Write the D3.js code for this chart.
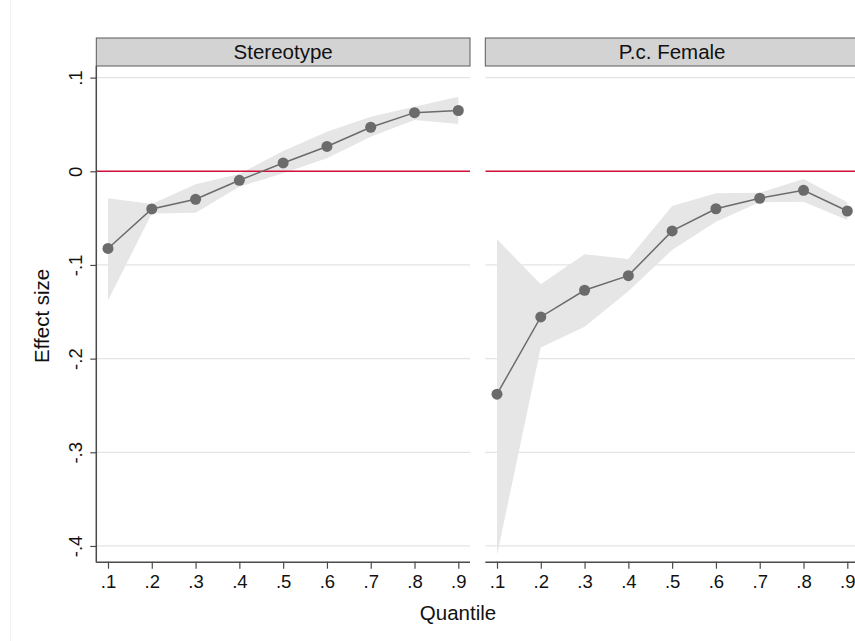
<!DOCTYPE html>
<html>
<head>
<meta charset="utf-8">
<script src="https://cdn.jsdelivr.net/npm/d3@7"></script>
<style>
  html, body { margin: 0; padding: 0; background: #fff; }
  svg { display: block; font-family: "Liberation Sans", Arial, Helvetica, sans-serif; }
</style>
</head>
<body>
<svg id="chart" width="855" height="641"></svg>
<script>
// Quantile regression effects with confidence bands, one panel per covariate
const quantiles = [0.1, 0.2, 0.3, 0.4, 0.5, 0.6, 0.7, 0.8, 0.9];
const xTickLabels = [".1", ".2", ".3", ".4", ".5", ".6", ".7", ".8", ".9"];
const yTicks = [0.1, 0, -0.1, -0.2, -0.3, -0.4];
const yTickLabels = [".1", "0", "-.1", "-.2", "-.3", "-.4"];
const panelTitles = ["Stereotype", "P.c. Female"];

const stereotypeEst = [-0.0824, -0.0402, -0.0299, -0.0096, 0.0089, 0.0265, 0.0470, 0.0626, 0.0649];
const stereotypeLo  = [-0.1380, -0.0450, -0.0442, -0.0164, -0.0021, 0.0139, 0.0370, 0.0548, 0.0505];
const stereotypeHi  = [-0.0288, -0.0350, -0.0139, -0.0030, 0.0217, 0.0423, 0.0583, 0.0690, 0.0797];

const femaleEst = [-0.2380, -0.1555, -0.1270, -0.1114, -0.0637, -0.0400, -0.0288, -0.0203, -0.0424];
const femaleLo  = [-0.4100, -0.1880, -0.1660, -0.1280, -0.0840, -0.0540, -0.0330, -0.0324, -0.0520];
const femaleHi  = [-0.0726, -0.1207, -0.0886, -0.0936, -0.0370, -0.0235, -0.0228, -0.0082, -0.0331];

const panels = [
  { title: panelTitles[0], est: stereotypeEst, lo: stereotypeLo, hi: stereotypeHi, x0: 96.3, yAxis: true },
  { title: panelTitles[1], est: femaleEst, lo: femaleLo, hi: femaleHi, x0: 485.3, yAxis: false }
];

const svg = d3.select("#chart");
const W = 855, H = 641;
const panelW = 373.7;
const plotTop = 66, plotBottom = 561.7;
const headerTop = 38;

const textColor = "#111";
const axisColor = "#4a4a4a";
const gridColor = "#e4e4e4";
const bandColor = "#e6e6e6";
const markColor = "#6b6b6b";
const refColor = "#d0103a";

// faint outer frame of the graph region
svg.append("line")
  .attr("x1", 10.5).attr("x2", 10.5).attr("y1", 0).attr("y2", H)
  .attr("stroke", "#f3f3f3").attr("stroke-width", 1);

const y = d3.scaleLinear().domain([-0.4168, 0.1124]).range([plotBottom, plotTop]);

panels.forEach((p) => {
  const x = d3.scaleLinear().domain([0.0733, 0.9267]).range([p.x0, p.x0 + panelW]);
  const g = svg.append("g");

  const clipId = "clip-" + p.title.replace(/[^A-Za-z]/g, "");
  svg.append("clipPath").attr("id", clipId)
    .append("rect").attr("x", p.x0).attr("y", plotTop)
    .attr("width", panelW).attr("height", plotBottom - plotTop);

  // horizontal grid
  g.append("g").selectAll("line").data(yTicks.filter(v => v !== 0)).join("line")
    .attr("x1", p.x0).attr("x2", p.x0 + panelW)
    .attr("y1", d => y(d)).attr("y2", d => y(d))
    .attr("stroke", gridColor).attr("stroke-width", 1.3);

  const rows = quantiles.map((q, i) => ({ q, est: p.est[i], lo: p.lo[i], hi: p.hi[i] }));

  const plot = g.append("g").attr("clip-path", `url(#${clipId})`);

  // confidence band
  plot.append("path").datum(rows)
    .attr("d", d3.area().x(d => x(d.q)).y0(d => y(d.lo)).y1(d => y(d.hi)))
    .attr("fill", bandColor).attr("stroke", "none");

  // zero reference line
  plot.append("line")
    .attr("x1", p.x0).attr("x2", p.x0 + panelW)
    .attr("y1", y(0)).attr("y2", y(0))
    .attr("stroke", refColor).attr("stroke-width", 1.6);

  // point estimates
  plot.append("path").datum(rows)
    .attr("d", d3.line().x(d => x(d.q)).y(d => y(d.est)))
    .attr("fill", "none").attr("stroke", markColor).attr("stroke-width", 1.5);
  plot.append("g").selectAll("circle").data(rows).join("circle")
    .attr("cx", d => x(d.q)).attr("cy", d => y(d.est)).attr("r", 5.5)
    .attr("fill", markColor);

  // panel header
  g.append("rect")
    .attr("x", p.x0).attr("y", headerTop)
    .attr("width", panelW).attr("height", plotTop - headerTop)
    .attr("fill", "#d3d3d3").attr("stroke", "#5a5a5a").attr("stroke-width", 1);
  g.append("text")
    .attr("x", p.x0 + panelW / 2).attr("y", 58.5)
    .attr("text-anchor", "middle").attr("font-size", 20.5).attr("fill", textColor)
    .text(p.title);

  // x axis
  const xAxis = d3.axisBottom(x).tickValues(quantiles)
    .tickFormat((d, i) => xTickLabels[i]).tickSize(7).tickPadding(5).tickSizeOuter(0);
  const xg = g.append("g").attr("transform", `translate(0,${plotBottom})`).call(xAxis);
  xg.select(".domain").attr("stroke", axisColor).attr("stroke-width", 1.5)
    .attr("d", `M${p.x0},0.5H${p.x0 + panelW}`);
  xg.selectAll(".tick line").attr("stroke", axisColor).attr("stroke-width", 1.2);
  xg.selectAll(".tick text").attr("font-size", 18.5).attr("fill", textColor)
    .attr("font-family", "Liberation Sans, Arial, sans-serif")
    .attr("y", 26.5).attr("dy", null);

  // y axis (left panel only)
  if (p.yAxis) {
    const yAxis = d3.axisLeft(y).tickValues(yTicks)
      .tickFormat((d, i) => yTickLabels[i]).tickSize(6).tickSizeOuter(0);
    const yg = g.append("g").attr("transform", `translate(${p.x0},0)`).call(yAxis);
    yg.select(".domain").attr("stroke", axisColor).attr("stroke-width", 1.5)
      .attr("d", `M0,${plotTop}V${plotBottom + 0.7}`);
    yg.selectAll(".tick line").attr("stroke", axisColor).attr("stroke-width", 1.2);
    yg.selectAll(".tick text")
      .attr("font-size", 18.5).attr("fill", textColor)
      .attr("font-family", "Liberation Sans, Arial, sans-serif")
      .attr("x", null).attr("dy", null)
      .attr("text-anchor", "middle")
      .attr("transform", "translate(-14,0) rotate(-90)");
  }
});

// axis titles
svg.append("text")
  .attr("transform", `translate(49,${(plotTop + plotBottom) / 2 + 2}) rotate(-90)`)
  .attr("text-anchor", "middle").attr("font-size", 20.5).attr("fill", textColor)
  .text("Effect size");
svg.append("text")
  .attr("x", 458).attr("y", 620)
  .attr("text-anchor", "middle").attr("font-size", 20.5).attr("fill", textColor)
  .text("Quantile");
</script>
</body>
</html>
